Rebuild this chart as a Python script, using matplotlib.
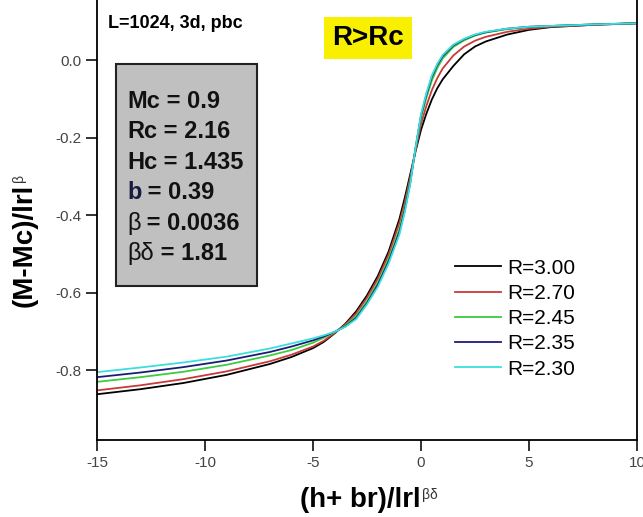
"""Scaling collapse of (M-Mc)/|r|^beta for several R above Rc."""

import matplotlib

matplotlib.use("Agg")
import matplotlib.pyplot as plt
from matplotlib.patches import Rectangle
from matplotlib.text import Annotation

# scaled field (h + b r)/|r|^(beta delta), shared by all curves
x_scaled = [-15, -13, -11, -9, -7, -6, -5, -4.5, -4, -3.5, -3, -2.5, -2, -1.5, -1, -0.75,
            -0.5, -0.25, 0, 0.25, 0.5, 0.75, 1, 1.5, 2, 2.5, 3, 4, 5, 6, 8, 10]

# scaled magnetisation (M - Mc)/|r|^beta
m_r300 = [-0.862, -0.849, -0.833, -0.812, -0.784, -0.766, -0.743, -0.727, -0.705, -0.680,
          -0.648, -0.607, -0.557, -0.494, -0.410, -0.355, -0.295, -0.235, -0.180, -0.138,
          -0.102, -0.073, -0.050, -0.015, 0.015, 0.035, 0.048, 0.066, 0.078, 0.085, 0.091, 0.095]
m_r270 = [-0.852, -0.839, -0.823, -0.803, -0.777, -0.760, -0.739, -0.724, -0.704, -0.682,
          -0.653, -0.613, -0.564, -0.502, -0.420, -0.367, -0.303, -0.232, -0.165, -0.118,
          -0.078, -0.047, -0.022, 0.012, 0.035, 0.050, 0.060, 0.073, 0.081, 0.086, 0.091, 0.095]
m_r245 = [-0.830, -0.818, -0.804, -0.786, -0.762, -0.748, -0.729, -0.716, -0.702, -0.685,
          -0.660, -0.622, -0.574, -0.513, -0.436, -0.380, -0.312, -0.228, -0.150, -0.097,
          -0.053, -0.021, 0.004, 0.034, 0.051, 0.063, 0.071, 0.080, 0.085, 0.088, 0.092, 0.095]
m_r235 = [-0.818, -0.806, -0.792, -0.775, -0.753, -0.739, -0.723, -0.713, -0.701, -0.687,
          -0.665, -0.627, -0.580, -0.520, -0.444, -0.387, -0.317, -0.226, -0.143, -0.089,
          -0.044, -0.013, 0.010, 0.038, 0.054, 0.065, 0.072, 0.081, 0.086, 0.088, 0.092, 0.095]
m_r230 = [-0.805, -0.793, -0.780, -0.765, -0.744, -0.731, -0.718, -0.710, -0.701, -0.688,
          -0.668, -0.630, -0.585, -0.525, -0.450, -0.392, -0.320, -0.225, -0.140, -0.085,
          -0.040, -0.010, 0.013, 0.040, 0.055, 0.066, 0.073, 0.081, 0.086, 0.088, 0.092, 0.095]

labels = ["R=3.00", "R=2.70", "R=2.45", "R=2.35", "R=2.30"]
colors = ["#000000", "#c83a3a", "#3ccc3c", "#1c1c78", "#3cdede"]

# (symbol, value) pairs for the parameter box
param_names = ["Mc", "Rc", "Hc", "b", "β", "βδ"]
param_values = ["0.9", "2.16", "1.435", "0.39", "0.0036", "1.81"]

plt.rcParams["font.family"] = ["Liberation Sans", "DejaVu Sans"]

W, H = 643, 517
fig = plt.figure(figsize=(W / 100, H / 100), dpi=100)
ax = fig.add_axes([97 / W, 1 - 440 / H, (637 - 97) / W, 440 / H])

for y, lab, col in zip([m_r300, m_r270, m_r245, m_r235, m_r230], labels, colors):
    ax.plot(x_scaled, y, color=col, linewidth=1.3, label=lab)

ax.set_xlim(-15, 10)
ax.set_ylim(-0.98, 0.155)
ax.set_xticks([-15, -10, -5, 0, 5, 10])
ax.set_yticks([-0.8, -0.6, -0.4, -0.2, 0.0])
ax.set_yticklabels(["-0.8", "-0.6", "-0.4", "-0.2", "0.0"])
ax.set_xticklabels(["-15", "-10", "-5", "0", "5", "10"])
ax.tick_params(direction="out", length=8, width=1.3, labelsize=11, colors="#222222",
               labelcolor="#444444", top=False, right=False)
ax.spines["top"].set_visible(False)
for side in ("left", "bottom", "right"):
    ax.spines[side].set_linewidth(1.3)

# axis titles, with small light superscripts like the original
xl = fig.text(360 / W, 1 - 500 / H, "(h+ br)/lrl", fontsize=20, fontweight="bold",
              ha="center", va="center")
fig.add_artist(Annotation("βδ", xy=(1, 1), xycoords=xl, xytext=(1, -1),
                          textcoords="offset points", ha="left", va="top",
                          fontsize=10, color="#333333"))
yl = fig.text(25 / W, 1 - 245 / H, "(M-Mc)/lrl", fontsize=20, fontweight="bold",
              rotation=90, ha="center", va="center")
fig.add_artist(Annotation("β", xy=(0, 1), xycoords=yl, xytext=(0, 1),
                          textcoords="offset points", rotation=90, ha="left", va="bottom",
                          fontsize=10, color="#333333"))

leg = ax.legend(loc="upper left", bbox_to_anchor=(436 / W, 1 - 240 / H),
                bbox_transform=fig.transFigure, frameon=False, fontsize=15,
                handlelength=2.2, handletextpad=0.3, labelspacing=0.3)

fig.text(108 / W, 1 - 24 / H, "L=1024, 3d, pbc", fontsize=13, fontweight="bold",
         va="center", ha="left")
fig.text(368 / W, 1 - 38 / H, "R>Rc", fontsize=20, fontweight="bold", ha="center",
         va="center", bbox=dict(boxstyle="square,pad=0.3", facecolor="#f8f000", edgecolor="none"))

box = Rectangle((116 / W, 1 - 286 / H), (257 - 116) / W, (286 - 64) / H,
                transform=fig.transFigure, facecolor="#c0c0c0", edgecolor="#222222",
                linewidth=1.5, zorder=3)
fig.add_artist(box)
for i, (name, val) in enumerate(zip(param_names, param_values)):
    greek = name.startswith("β")
    sym = fig.text(127 / W, 1 - (101 + i * 30.4 + 7) / H, name, fontsize=17,
                   fontweight="normal" if greek else "bold",
                   color="#1a1a40" if name == "b" else "#111111",
                   va="baseline", ha="left", zorder=4)
    value = Annotation(" = " + val, xy=(1, 0), xycoords=sym, xytext=(0, 0),
                       textcoords="offset points", fontsize=17, fontweight="bold",
                       ha="left", va="bottom", color="#111111")
    value.set_zorder(4)
    fig.add_artist(value)

fig.savefig("out.png", dpi=100)
